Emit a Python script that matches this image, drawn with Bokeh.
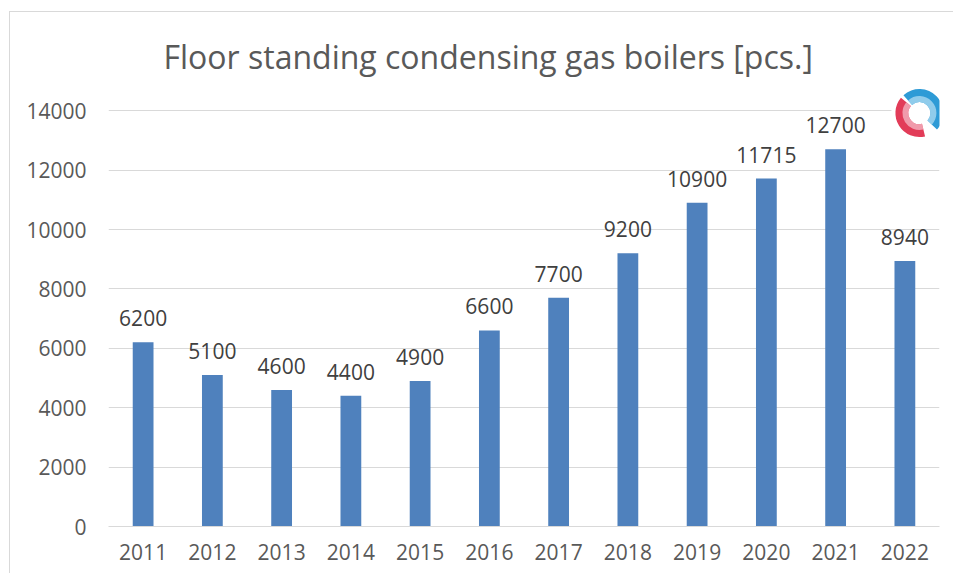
from bokeh.plotting import figure
from bokeh.models import ColumnDataSource, FixedTicker, Range1d, Title
from bokeh.core.properties import value
from bokeh.embed import file_html
from bokeh.resources import INLINE

years = ["2011", "2012", "2013", "2014", "2015", "2016", "2017", "2018", "2019", "2020", "2021", "2022"]
units = [6200, 5100, 4600, 4400, 4900, 6600, 7700, 9200, 10900, 11715, 12700, 8940]
y_ticks = [0, 2000, 4000, 6000, 8000, 10000, 12000, 14000]
title_text = "Floor standing condensing gas boilers [pcs.]"

idx = list(range(len(years)))
src = ColumnDataSource(dict(x=idx, top=units, lbl=[str(v) for v in units]))

p = figure(width=944, height=562, output_backend="svg", toolbar_location=None,
           x_range=Range1d(-0.5, len(years) - 0.5), y_range=Range1d(0, 14950),
           min_border_left=98, min_border_right=15, min_border_top=70, min_border_bottom=48)
p.styles = {"border-left": "1px solid #d9d9d9", "border-top": "1px solid #d9d9d9",
            "margin-left": "9px", "margin-top": "11px"}
p.outline_line_color = None
p.background_fill_color = "white"
p.border_fill_color = "white"

t = Title(text=title_text, align="left", text_font="Open Sans", text_font_size="32px",
          text_color="#595959", text_font_style="normal", offset=55, standoff=10)
p.add_layout(t, "above")

p.vbar(x="x", top="top", width=0.3, source=src, fill_color="#4f81bd", line_color=None)
p.text(x="x", y="top", text="lbl", source=src, text_align="center", text_baseline="alphabetic",
       y_offset=-24, text_font=value("Open Sans"), text_font_size="21px", text_color="#404040")

# logo
lx, ly = [11.21], [13920]
p.rect(x=lx, y=ly, width=56, height=60, width_units="screen", height_units="screen",
       fill_color="white", line_color=None)
p.annular_wedge(x=lx, y=ly, inner_radius=11, outer_radius=24,
                inner_radius_units="screen", outer_radius_units="screen",
                start_angle=[-0.75], end_angle=[2.3], fill_color="#2e9bd6", line_color=None)
p.annular_wedge(x=lx, y=ly, inner_radius=11, outer_radius=17,
                inner_radius_units="screen", outer_radius_units="screen",
                start_angle=[-0.75], end_angle=[2.3], fill_color="#a9d8f0", line_color=None, fill_alpha=0.8)
p.annular_wedge(x=lx, y=ly, inner_radius=11, outer_radius=24,
                inner_radius_units="screen", outer_radius_units="screen",
                start_angle=[2.45], end_angle=[4.95], fill_color="#e23c58", line_color=None)
p.annular_wedge(x=lx, y=ly, inner_radius=11, outer_radius=17,
                inner_radius_units="screen", outer_radius_units="screen",
                start_angle=[2.45], end_angle=[4.95], fill_color="#f4b3c0", line_color=None, fill_alpha=0.8)

p.xaxis.ticker = FixedTicker(ticks=idx)
p.xaxis.major_label_overrides = {i: y for i, y in enumerate(years)}
p.yaxis.ticker = FixedTicker(ticks=y_ticks)
for ax in (p.xaxis, p.yaxis):
    ax.major_label_text_font = "Open Sans"
    ax.major_label_text_font_size = "21px"
    ax.major_label_text_color = "#595959"
    ax.major_tick_line_color = None
    ax.minor_tick_line_color = None
    ax.major_tick_out = 0
    ax.major_tick_in = 0
p.yaxis.axis_line_color = None
p.xaxis.axis_line_color = "#d9d9d9"
p.xaxis.major_label_standoff = 17
p.yaxis.major_label_standoff = 22
p.xgrid.grid_line_color = None
p.ygrid.grid_line_color = "#d9d9d9"
p.ygrid.ticker = FixedTicker(ticks=y_ticks)

open("out.html", "w").write(file_html(p, INLINE))
